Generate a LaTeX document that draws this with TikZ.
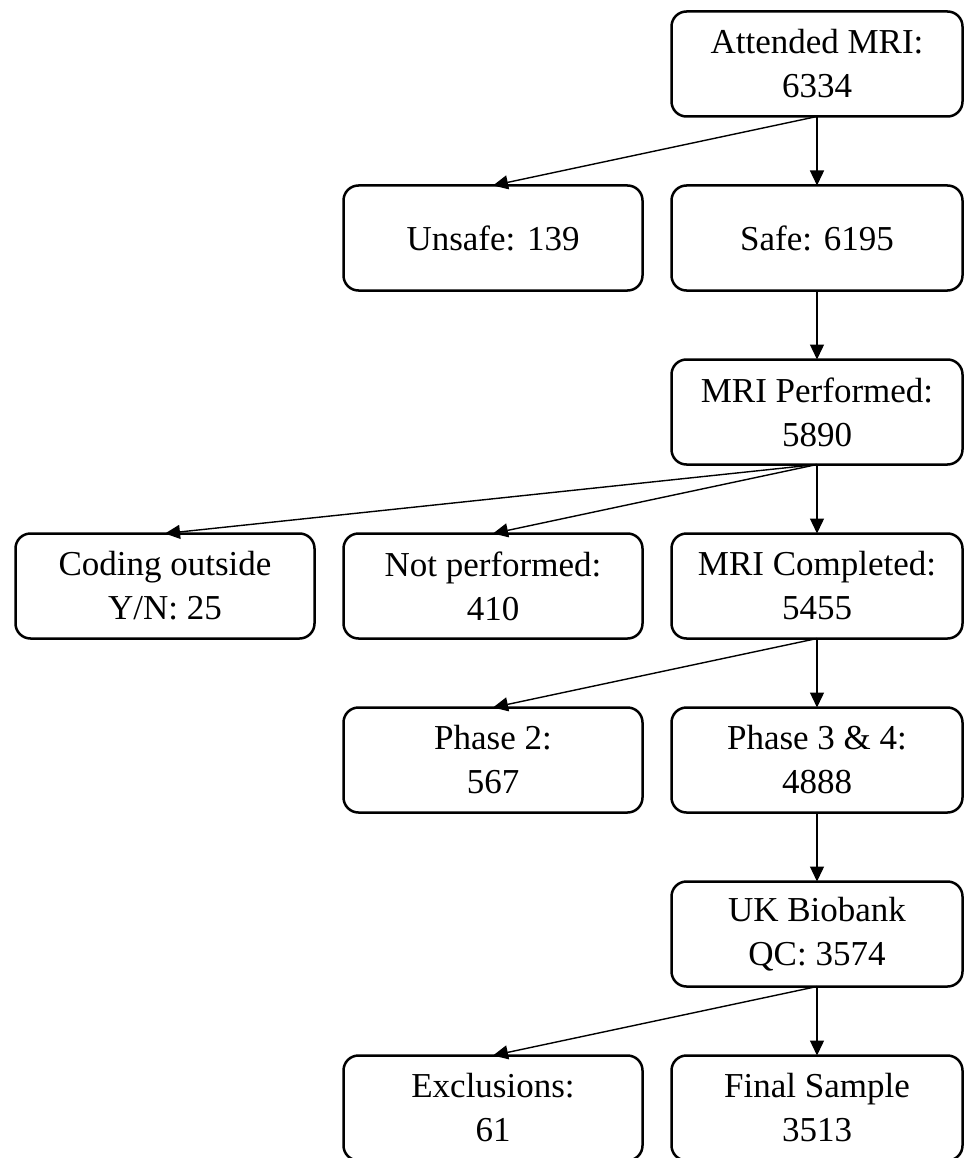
\documentclass[tikz,border=0pt]{standalone}
\usepackage{fontspec}
\setmainfont{Liberation Serif}
\usetikzlibrary{arrows.meta, positioning}

\begin{document}
\begin{tikzpicture}[
        node distance=69pt and 29pt,
        box/.style={draw, line width=2.5pt, outer sep=0pt, rounded corners=15pt, align=center, minimum width=291pt, minimum height=105pt, font=\fontsize{35}{44}\selectfont},
        wide/.style={box, minimum width=299pt},
        arr/.style={-{Triangle[width=14pt, length=15pt]}, line width=1.4pt},
      ]
      \useasboundingbox (0,0) rectangle (964pt,-1158pt);
      \node[box] (att) at (817pt,-64pt) {Attended MRI:\\ 6334};
      \node[box] (safe) [below=of att] {Safe: 6195};
      \node[wide] (unsafe) [left=of safe] {Unsafe: 139};
      \node[box] (perf) [below=of safe] {MRI Performed:\\ 5890};
      \node[box] (compl) [below=of perf] {MRI Completed:\\ 5455};
      \node[wide] (notperf) [left=of compl] {Not performed:\\ 410};
      \node[wide] (coding) [left=of notperf] {Coding outside\\ Y/N: 25};
      \node[box] (ph34) [below=of compl] {Phase 3 \& 4:\\ 4888};
      \node[wide] (ph2) [left=of ph34] {Phase 2:\\ 567};
      \node[box] (qc) [below=of ph34] {UK Biobank\\ QC: 3574};
      \node[box] (final) [below=of qc] {Final Sample\\ 3513};
      \node[wide] (excl) [left=of final] {Exclusions:\\ 61};
      \draw[arr] (att.south) -- (safe.north);
      \draw[arr] (att.south) -- (unsafe.north);
      \draw[arr] (safe.south) -- (perf.north);
      \draw[arr] (perf.south) -- (compl.north);
      \draw[arr] (perf.south) -- (notperf.north);
      \draw[arr] (perf.south) -- (coding.north);
      \draw[arr] (compl.south) -- (ph34.north);
      \draw[arr] (compl.south) -- (ph2.north);
      \draw[arr] (ph34.south) -- (qc.north);
      \draw[arr] (qc.south) -- (final.north);
      \draw[arr] (qc.south) -- (excl.north);
    \end{tikzpicture}
\end{document}
